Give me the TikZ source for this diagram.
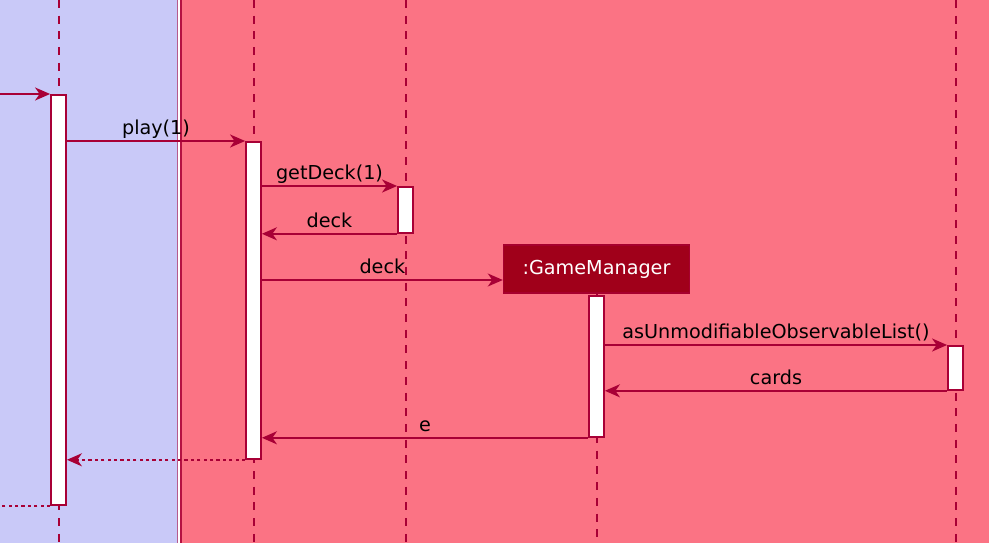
\documentclass[tikz,border=0pt]{standalone}
\usepackage{fontspec}
\setmainfont{DejaVu Sans}
\usetikzlibrary{arrows.meta,positioning}
\definecolor{umlred}{HTML}{A80036}
\definecolor{boxblue}{HTML}{C9C9F8}
\definecolor{boxred}{HTML}{FB7384}
\definecolor{gmfill}{HTML}{A0001A}

\begin{document}
\begin{tikzpicture}[x=1pt, y=-1pt, >={Stealth[length=15pt, width=13pt, inset=4.5pt]},
  every node/.style={font=\fontsize{19.2}{23}\selectfont},
  lifeline/.style={draw=umlred, line width=2pt, dash pattern=on 8pt off 7.7pt},
  bar/.style={draw=umlred, fill=white, line width=1.8pt, minimum width=15pt, inner sep=0pt, anchor=north},
  msg/.style={->, draw=umlred, line width=1.8pt},
  reply/.style={msg, dash pattern=on 3.2pt off 3.2pt},
  lbl/.style={midway, anchor=base, yshift=6.5pt, inner sep=0pt}]
  \useasboundingbox (0,0) rectangle (989,543);
  \fill[white] (0,0) rectangle (989,543);
  \filldraw[fill=boxblue, draw=umlred!55!boxblue, line width=1.6pt] (-2,-2) rectangle (177.5,545);
  \filldraw[fill=boxred, draw=umlred!85!boxred, line width=1.6pt] (181,-2) rectangle (991,545);

  % lifelines
  \foreach \x in {58.5,253.5,405.5,955.5}
    \draw[lifeline] (\x,0) -- (\x,543);
  \node[draw=umlred!70!gmfill, fill=gmfill, text=white, line width=1.4pt,
        minimum width=186pt, minimum height=48pt, inner sep=0pt] (gm) at (596.5,269) {:GameManager};
  \draw[lifeline] (gm.south) -- (gm.south |- 0,543);

  % activations
  \node[bar, minimum height=410pt] (barA) at (58.5,94) {};
  \node[bar, minimum height=317pt] (barB) at (253.5,141) {};
  \node[bar, minimum height=46pt] (barC) at (405.5,186) {};
  \node[bar, minimum height=141pt] (barD) at (596.5,295) {};
  \node[bar, minimum height=44pt] (barE) at (955.5,345) {};

  \coordinate (in) at (0,94);
  \coordinate (out) at (0,504);

  % messages
  \draw[msg] (in) -- (barA.north west);
  \draw[msg] (barA.east |- barB.north) -- node[lbl] {play(1)} (barB.north west);
  \draw[msg] (barB.east |- barC.north) -- node[lbl] {getDeck(1)} (barC.north west);
  \draw[msg] (barC.south west) -- node[lbl] {deck} (barB.east |- barC.south);
  \draw[msg] (barB.east |- 0,280) -- node[lbl] {deck} (gm.west |- 0,280);
  \draw[msg] (barD.east |- barE.north) -- node[lbl] {asUnmodifiableObservableList()} (barE.north west);
  \draw[msg] (barE.south west) -- node[lbl] {cards} (barD.east |- barE.south);
  \draw[msg] (barD.south west) -- node[lbl] {e} (barB.east |- barD.south);
  \draw[reply] (barB.south west) -- (barA.east |- barB.south);
  \draw[reply, -] (barA.south west) -- (out |- barA.south west);
\end{tikzpicture}
\end{document}
